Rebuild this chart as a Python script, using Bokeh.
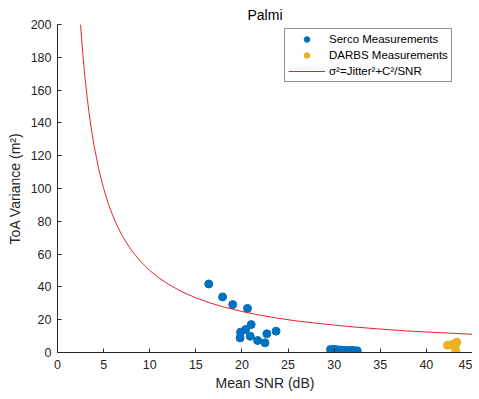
from bokeh.plotting import figure
from bokeh.models import Range1d, FixedTicker, Legend, LegendItem
from bokeh.embed import file_html
from bokeh.resources import INLINE

# Serco measurements (Mean SNR dB, ToA variance m^2)
serco_snr = [16.4, 17.9, 19.0, 20.6, 21.0, 19.85, 20.4, 19.8, 20.9, 21.7, 22.5, 22.7, 23.7,
             29.6, 29.9, 30.2, 30.4, 30.7, 30.9, 31.2, 31.5, 31.9, 32.2, 32.5]
serco_var = [41.8, 33.9, 29.2, 26.9, 17.0, 12.4, 14.0, 8.9, 9.9, 7.3, 5.9, 11.4, 13.0,
             1.8, 1.9, 1.7, 1.6, 1.5, 1.4, 1.3, 1.2, 1.3, 1.1, 1.0]

# DARBS measurements
darbs_snr = [42.3, 42.7, 43.2, 43.3, 43.1, 43.2]
darbs_var = [4.4, 4.8, 5.8, 6.3, 3.0, 0.8]

# Model curve points
model_snr = [2.5, 2.6, 2.75, 2.9, 3.0, 3.25, 3.5, 3.75, 4.0, 4.5, 5.0, 5.5, 6.0, 6.5, 7.0,
             7.5, 8.0, 9.0, 10.0, 11.0, 12.0, 13.5, 15.0, 16.5, 18.0, 20.0, 22.0, 24.0,
             26.0, 28.0, 30.0, 32.5, 35.0, 37.5, 40.0, 42.5, 45.0]
model_var = [200.0, 192.3, 181.8, 172.4, 166.7, 153.8, 142.9, 133.3, 125.0, 111.1, 100.0,
             90.9, 83.3, 76.9, 71.4, 66.7, 62.5, 55.6, 50.0, 45.5, 41.7, 37.0, 33.3, 30.3,
             27.8, 25.0, 22.7, 20.8, 19.2, 17.9, 16.7, 15.4, 14.3, 13.3, 12.5, 11.8, 11.1]

x_ticks = [0, 5, 10, 15, 20, 25, 30, 35, 40, 45]
y_ticks = [0, 20, 40, 60, 80, 100, 120, 140, 160, 180, 200]

FONT = "Liberation Sans"
AX = "#262626"

p = figure(output_backend="svg", toolbar_location=None,
           x_range=Range1d(0, 45), y_range=Range1d(0, 200),
           frame_width=415, frame_height=328,
           min_border_left=57, min_border_right=0, min_border_top=24, min_border_bottom=10,
           title="Palmi")
p.title.align = "center"
p.title.text_font = FONT
p.title.text_font_style = "normal"
p.title.text_font_size = "14px"
p.title.text_color = "#000000"
p.title.standoff = 4
p.outline_line_color = None
p.xgrid.visible = False
p.ygrid.visible = False

for ax in (p.xaxis[0], p.yaxis[0]):
    ax.major_label_text_font = FONT
    ax.major_label_text_font_size = "12.5px"
    ax.major_label_text_color = AX
    ax.axis_label_text_font = FONT
    ax.axis_label_text_font_size = "14px"
    ax.axis_label_text_font_style = "normal"
    ax.axis_label_text_color = AX
    ax.axis_line_color = AX
    ax.major_tick_line_color = AX
    ax.major_tick_in = 4
    ax.major_tick_out = 0
    ax.minor_tick_line_color = None

p.xaxis.ticker = FixedTicker(ticks=x_ticks)
p.yaxis.ticker = FixedTicker(ticks=y_ticks)
p.xaxis.axis_label = "Mean SNR (dB)"
p.yaxis.axis_label = "ToA Variance (m²)"
p.xaxis.major_label_standoff = 7
p.yaxis.major_label_standoff = 6
p.xaxis.axis_label_standoff = 3
p.yaxis.axis_label_standoff = 5

r_serco = p.scatter(serco_snr, serco_var, size=8, color="#0072BD", line_color="#0072BD")
r_darbs = p.scatter(darbs_snr, darbs_var, size=8, color="#EDB120", line_color="#EDB120")
r_model = p.line(model_snr, model_var, line_color="#E8232B", line_width=1)

legend = Legend(items=[
    LegendItem(label="Serco Measurements", renderers=[r_serco]),
    LegendItem(label="DARBS Measurements", renderers=[r_darbs]),
    LegendItem(label="σ²=Jitter²+C²/SNR", renderers=[r_model]),
], location=(227, 270))
legend.label_text_font = FONT
legend.label_text_font_size = "11.5px"
legend.label_text_color = "#000000"
legend.border_line_color = "#262626"
legend.border_line_width = 1
legend.glyph_width = 37
legend.glyph_height = 14
legend.label_height = 14
legend.spacing = 2
legend.padding = 3
legend.margin = 0
legend.label_standoff = 4
p.add_layout(legend)

open("out.html", "w").write(file_html(p, INLINE))
